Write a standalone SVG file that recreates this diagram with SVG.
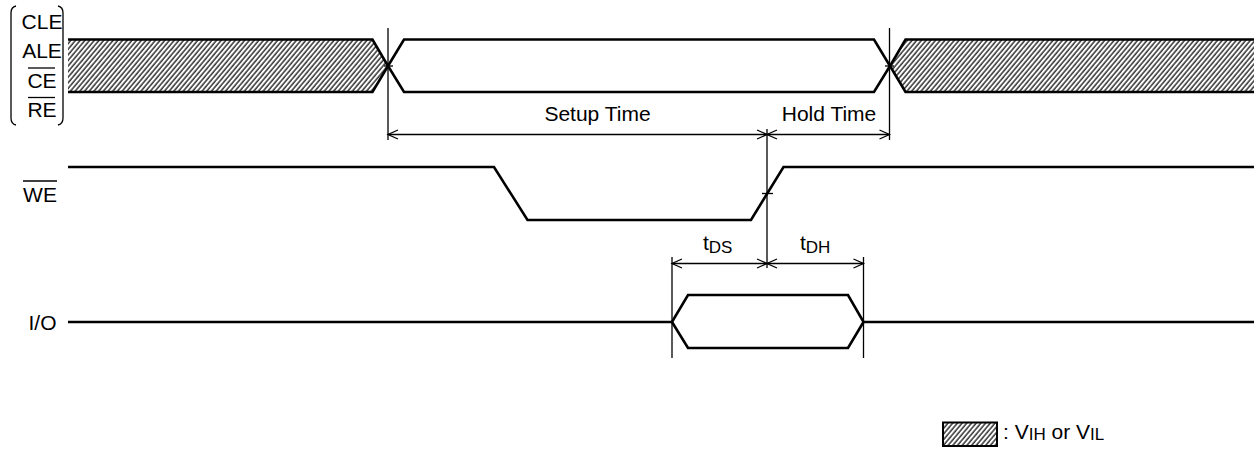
<svg xmlns="http://www.w3.org/2000/svg" width="1254" height="459" viewBox="0 0 1254 459">
<style>
text{font-family:"Liberation Sans",Arial,Helvetica,sans-serif;fill:#000}
.lbl{font-size:21px}
.sig{fill:none;stroke:#000;stroke-width:2.6;stroke-linejoin:miter}
.hatch{fill:url(#hatch);stroke:#000;stroke-width:2.6}
.thin{fill:none;stroke:#000;stroke-width:1.3}
.dim{fill:none;stroke:#000;stroke-width:1.3}
</style>
<defs>
<pattern id="hatch" patternUnits="userSpaceOnUse" width="3.6" height="8" patternTransform="rotate(40)">
<rect width="3.6" height="8" fill="#fff"/>
<line x1="1" y1="0" x2="1" y2="8" stroke="#222" stroke-width="1.4"/>
</pattern>
<marker id="arr" markerUnits="userSpaceOnUse" markerWidth="14" markerHeight="12" refX="12" refY="6" orient="auto-start-reverse" viewBox="0 0 14 12">
<path d="M2,1.5 L12,6 L2,10.5" fill="none" stroke="#000" stroke-width="1.3"/>
</marker>
</defs>

<g id="labels">
<path class="thin" d="M16,6 Q11,7 11,13 L11,118 Q11,124 16,125"/>
<path class="thin" d="M58,6 Q63,7 63,13 L63,118 Q63,124 58,125"/>
<text class="lbl" x="42" y="28.5" text-anchor="middle">CLE</text>
<text class="lbl" x="42" y="58" text-anchor="middle">ALE</text>
<text class="lbl" x="42" y="87.5" text-anchor="middle">CE</text>
<line class="thin" x1="28" y1="68" x2="55" y2="68"/>
<text class="lbl" x="42" y="117" text-anchor="middle">RE</text>
<line class="thin" x1="28" y1="97.5" x2="55" y2="97.5"/>
<text class="lbl" x="40" y="202" text-anchor="middle">WE</text>
<line class="thin" x1="23" y1="181" x2="57" y2="181"/>
<text class="lbl" x="42.5" y="329.5" text-anchor="middle">I/O</text>
</g>

<g id="ctrl-signal">
<path class="hatch" d="M68,39.5 L372.5,39.5 L388,66 L372.5,92 L68,92"/>
<path class="sig" d="M388,66 L404,39.5 L874,39.5 L890,66 L874,92 L404,92 Z"/>
<path class="hatch" d="M1256,39.5 L905.5,39.5 L890,66 L905.5,92 L1256,92"/>
</g>

<g id="we-signal">
<path class="sig" d="M68,167 L494,167 L527.5,220 L751,220 L783.5,167 L1256,167"/>
</g>

<g id="io-signal">
<path class="sig" d="M68,322 L672,322 L688,295 L848,295 L863.5,322 L1256,322"/>
<path class="sig" d="M672,322 L688,348 L848,348 L863.5,322"/>
</g>

<g id="connectors">
<line class="thin" x1="388" y1="28" x2="388" y2="140"/>
<line class="thin" x1="889.5" y1="28" x2="889.5" y2="140"/>
<line class="thin" x1="767" y1="129" x2="767" y2="268"/>
<line class="thin" x1="672" y1="257" x2="672" y2="358"/>
<line class="thin" x1="863.5" y1="257" x2="863.5" y2="358"/>
<line class="thin" x1="384" y1="66" x2="393" y2="66"/>
<line class="thin" x1="885" y1="66" x2="894" y2="66"/>
<line class="thin" x1="762" y1="193.5" x2="773" y2="193.5"/>
<line class="dim" x1="388" y1="134.5" x2="767" y2="134.5" marker-start="url(#arr)" marker-end="url(#arr)"/>
<line class="dim" x1="767" y1="134.5" x2="889.5" y2="134.5" marker-start="url(#arr)" marker-end="url(#arr)"/>
<line class="dim" x1="672" y1="263.5" x2="767" y2="263.5" marker-start="url(#arr)" marker-end="url(#arr)"/>
<line class="dim" x1="767" y1="263.5" x2="863.5" y2="263.5" marker-start="url(#arr)" marker-end="url(#arr)"/>
</g>

<g id="timing-labels">
<text class="lbl" x="597.5" y="121" text-anchor="middle">Setup Time</text>
<text class="lbl" x="829" y="121" text-anchor="middle">Hold Time</text>
<text class="lbl" x="703" y="250">t<tspan font-size="17" dy="2.5">DS</tspan></text>
<text class="lbl" x="800" y="250">t<tspan font-size="17" dy="2.5">DH</tspan></text>
</g>

<g id="legend">
<rect x="943" y="422.5" width="54" height="23.5" fill="url(#hatch)" stroke="#000" stroke-width="2"/>
<text class="lbl" x="1003" y="438.5" font-size="20">: V<tspan font-size="17" dy="1.5">IH</tspan><tspan dy="-1.5"> or V</tspan><tspan font-size="17" dy="1.5">IL</tspan></text>
</g>
</svg>
